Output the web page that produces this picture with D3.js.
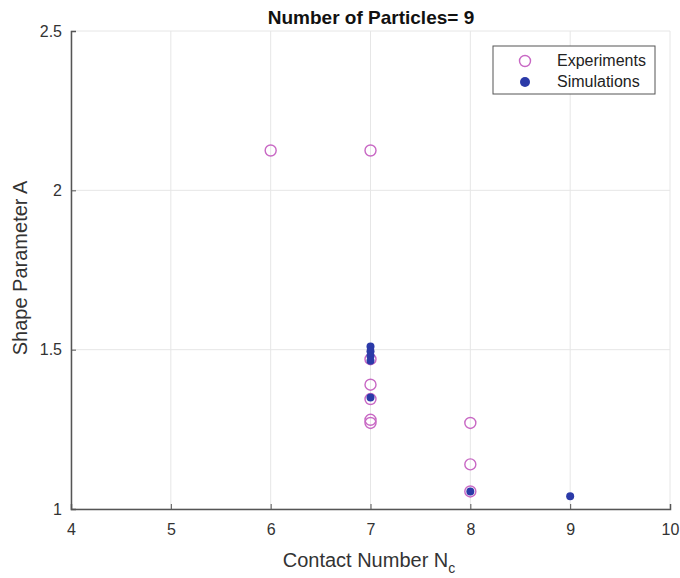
<!DOCTYPE html>
<html><head><meta charset="utf-8">
<script src="https://cdn.jsdelivr.net/npm/d3@7"></script>
<style>body{margin:0;background:#fff}svg{display:block}</style>
</head><body>
<script>
const title = "Number of Particles= 9";
const xTicks = [4,5,6,7,8,9,10];
const yTicks = [1,1.5,2,2.5];
const expX = [6,7,7,7,7,7,7,8,8,8];
const expY = [2.125,2.125,1.47,1.39,1.345,1.28,1.27,1.27,1.14,1.055];
const simX = [7,7,7,7,7,8,9];
const simY = [1.51,1.495,1.48,1.465,1.35,1.055,1.04];
const seriesNames = ["Experiments","Simulations"];

const W=680,H=578;
const svg=d3.select("body").append("svg").attr("width",W).attr("height",H);
const x=d3.scaleLinear().domain([4,10]).range([71,670]);
const y=d3.scaleLinear().domain([1,2.5]).range([509,31]);
const font="Liberation Sans, Arial, sans-serif";

// grid
svg.append("g").selectAll("line").data(xTicks).join("line")
  .attr("x1",d=>x(d)).attr("x2",d=>x(d)).attr("y1",y(1)).attr("y2",y(2.5))
  .attr("stroke","#e6e6e6").attr("stroke-width",1);
svg.append("g").selectAll("line").data(yTicks).join("line")
  .attr("x1",x(4)).attr("x2",x(10)).attr("y1",d=>y(d)).attr("y2",d=>y(d))
  .attr("stroke","#e6e6e6").attr("stroke-width",1);

// axes
const xa=svg.append("g").attr("transform",`translate(0,${y(1)})`)
  .call(d3.axisBottom(x).tickValues(xTicks).tickSize(-5).tickPadding(15).tickFormat(d3.format("d")));
const ya=svg.append("g").attr("transform",`translate(${x(4)},0)`)
  .call(d3.axisLeft(y).tickValues(yTicks).tickSize(-5).tickPadding(9).tickFormat(d=>d));
[xa,ya].forEach(a=>{
  a.select(".domain").attr("stroke","#555").attr("stroke-width",1.5);
  a.selectAll(".tick line").attr("stroke","#555");
  a.selectAll("text").attr("font-family",font).attr("font-size",16).attr("fill","#333");
});

// experiments
svg.append("g").selectAll("circle").data(expX.map((d,i)=>[d,expY[i]])).join("circle")
  .attr("cx",d=>x(d[0])).attr("cy",d=>y(d[1])).attr("r",5.5)
  .attr("fill","none").attr("stroke","#c868c4").attr("stroke-width",1.4);
// simulations
svg.append("g").selectAll("circle").data(simX.map((d,i)=>[d,simY[i]])).join("circle")
  .attr("cx",d=>x(d[0])).attr("cy",d=>y(d[1])).attr("r",4)
  .attr("fill","#2b3aa8");

// title
svg.append("text").attr("x",371).attr("y",24).attr("text-anchor","middle")
  .attr("font-family",font).attr("font-weight","bold").attr("font-size",19).attr("fill","#111").text(title);

// x label
const xl=svg.append("text").attr("x",369).attr("y",567).attr("text-anchor","middle")
  .attr("font-family",font).attr("font-size",20).attr("fill","#333");
xl.append("tspan").text("Contact Number N");
xl.append("tspan").attr("dy",6).attr("font-size",14).text("c");

// y label
svg.append("text").attr("transform","translate(27,268) rotate(-90)").attr("text-anchor","middle")
  .attr("font-family",font).attr("font-size",20).attr("fill","#333").text("Shape Parameter A");

// legend
const lg=svg.append("g");
lg.append("rect").attr("x",493).attr("y",46).attr("width",162).attr("height",48)
  .attr("fill","#fff").attr("stroke","#555").attr("stroke-width",1);
lg.append("circle").attr("cx",525).attr("cy",61).attr("r",5.5).attr("fill","none").attr("stroke","#c868c4").attr("stroke-width",1.4);
lg.append("circle").attr("cx",525).attr("cy",82).attr("r",5).attr("fill","#2b3aa8");
seriesNames.forEach((n,i)=>lg.append("text").attr("x",557).attr("y",66+i*21)
  .attr("font-family",font).attr("font-size",16).attr("fill","#222").text(n));
</script>
</body></html>
